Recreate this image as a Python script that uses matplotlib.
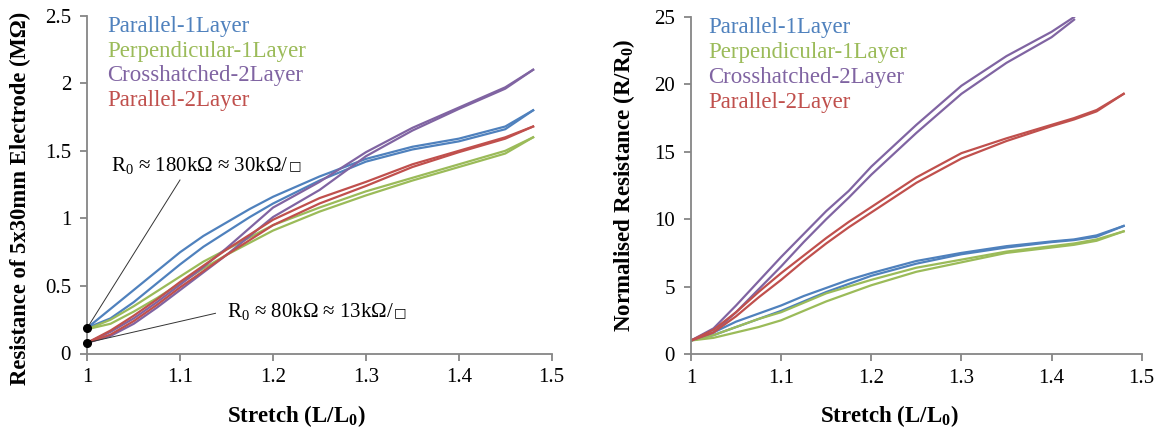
import matplotlib
matplotlib.use('Agg')
import matplotlib.pyplot as plt
import numpy as np

plt.rcParams['font.family'] = ['Liberation Serif', 'DejaVu Serif']
plt.rcParams['mathtext.fontset'] = 'custom'
plt.rcParams['mathtext.rm'] = 'Liberation Serif'
plt.rcParams['mathtext.bf'] = 'Liberation Serif:bold'
plt.rcParams['mathtext.it'] = 'Liberation Serif:italic'

names = ['Parallel-1Layer', 'Perpendicular-1Layer', 'Crosshatched-2Layer', 'Parallel-2Layer']
colors = ['#4F81BD', '#9BBB59', '#8064A2', '#C0504D']

# stretch values where the left-panel branches were read
res_x = [1.0, 1.025, 1.05, 1.075, 1.1, 1.125, 1.15, 1.175, 1.2, 1.25, 1.3, 1.35, 1.4, 1.45, 1.48]

# absolute resistance (MOhm), upper / lower branch of each loop
res_upper = {
    'Parallel-1Layer':      [0.19, 0.33, 0.47, 0.61, 0.75, 0.87, 0.97, 1.07, 1.16, 1.31, 1.44, 1.53, 1.59, 1.68, 1.80],
    'Perpendicular-1Layer': [0.18, 0.25, 0.35, 0.46, 0.57, 0.68, 0.77, 0.86, 0.95, 1.08, 1.20, 1.30, 1.40, 1.50, 1.60],
    'Crosshatched-2Layer':  [0.08, 0.16, 0.26, 0.38, 0.51, 0.64, 0.78, 0.93, 1.08, 1.27, 1.49, 1.67, 1.82, 1.97, 2.10],
    'Parallel-2Layer':      [0.08, 0.17, 0.28, 0.40, 0.53, 0.65, 0.77, 0.88, 0.99, 1.15, 1.27, 1.40, 1.50, 1.60, 1.68],
}
res_lower = {
    'Parallel-1Layer':      [0.19, 0.26, 0.38, 0.52, 0.66, 0.79, 0.90, 1.01, 1.11, 1.28, 1.42, 1.51, 1.57, 1.66, 1.80],
    'Perpendicular-1Layer': [0.18, 0.22, 0.31, 0.41, 0.52, 0.63, 0.73, 0.82, 0.91, 1.05, 1.17, 1.28, 1.38, 1.48, 1.60],
    'Crosshatched-2Layer':  [0.08, 0.13, 0.22, 0.34, 0.47, 0.60, 0.73, 0.87, 1.01, 1.21, 1.46, 1.65, 1.81, 1.96, 2.10],
    'Parallel-2Layer':      [0.08, 0.14, 0.24, 0.36, 0.49, 0.61, 0.73, 0.84, 0.95, 1.11, 1.24, 1.38, 1.49, 1.59, 1.68],
}

# normalised resistance R/R0, upper / lower branch
norm_x = [1.0, 1.025, 1.05, 1.075, 1.1, 1.125, 1.15, 1.175, 1.2, 1.25, 1.3, 1.35, 1.4, 1.425, 1.45, 1.48]
norm_upper = {
    'Parallel-1Layer':      [1.0, 1.6, 2.4, 3.0, 3.6, 4.3, 4.9, 5.5, 6.0, 6.9, 7.5, 8.0, 8.35, 8.5, 8.8, 9.5],
    'Perpendicular-1Layer': [1.0, 1.4, 2.0, 2.6, 3.1, 3.8, 4.5, 5.0, 5.5, 6.4, 7.0, 7.6, 8.0, 8.2, 8.5, 9.1],
    'Crosshatched-2Layer':  [1.0, 1.9, 3.6, 5.4, 7.2, 8.9, 10.6, 12.1, 13.9, 17.0, 19.9, 22.1, 23.9, 25.0, np.nan, np.nan],
    'Parallel-2Layer':      [1.0, 1.8, 3.1, 4.6, 6.0, 7.3, 8.6, 9.8, 10.9, 13.1, 14.9, 16.0, 17.0, 17.5, 18.1, 19.3],
}
norm_lower = {
    'Parallel-1Layer':      [1.0, 1.4, 2.0, 2.6, 3.2, 3.9, 4.6, 5.2, 5.8, 6.7, 7.4, 7.9, 8.3, 8.45, 8.7, 9.5],
    'Perpendicular-1Layer': [1.0, 1.2, 1.6, 2.0, 2.5, 3.2, 3.9, 4.5, 5.1, 6.1, 6.8, 7.5, 7.9, 8.1, 8.4, 9.1],
    'Crosshatched-2Layer':  [1.0, 1.6, 3.1, 4.8, 6.5, 8.3, 10.0, 11.6, 13.3, 16.4, 19.3, 21.6, 23.5, 24.8, np.nan, np.nan],
    'Parallel-2Layer':      [1.0, 1.6, 2.8, 4.2, 5.5, 6.9, 8.2, 9.4, 10.5, 12.7, 14.5, 15.8, 16.9, 17.4, 18.0, 19.3],
}

x_ticks = [1, 1.1, 1.2, 1.3, 1.4, 1.5]
x_ticklabels = ['1', '1.1', '1.2', '1.3', '1.4', '1.5']
left_yticks = [0, 0.5, 1, 1.5, 2, 2.5]
left_yticklabels = ['0', '0.5', '1', '1.5', '2', '2.5']
right_yticks = [0, 5, 10, 15, 20, 25]

W, H = 1159, 433
fig = plt.figure(figsize=(W / 100, H / 100), dpi=100)
ax1 = fig.add_axes([87.3 / W, 1 - 353.5 / H, 464.4 / W, 337.8 / H])
ax2 = fig.add_axes([691 / W, 1 - 354 / H, 450.7 / W, 337 / H])

grey = '#868686'

def style(ax):
    for s in ['top', 'right']:
        ax.spines[s].set_visible(False)
    for s in ['left', 'bottom']:
        ax.spines[s].set_color(grey)
        ax.spines[s].set_linewidth(1.3)
    ax.tick_params(direction='out', length=4.7, width=1.3, color=grey, labelsize=15)
    ax.tick_params(axis='x', pad=6)
    ax.tick_params(axis='y', pad=7)
    ax.set_xlim(1, 1.5)
    ax.set_xticks(x_ticks)
    ax.set_xticklabels(x_ticklabels)

# left panel
for name, c in zip(names, colors):
    ax1.plot(res_x, res_upper[name], color=c, lw=1.6)
    ax1.plot(res_x, res_lower[name], color=c, lw=1.6)
style(ax1)
ax1.set_ylim(0, 2.5)
ax1.set_yticks(left_yticks)
ax1.set_yticklabels(left_yticklabels)

ax1.plot([1, 1], [0.19, 0.08], 'o', color='black', ms=5.5, clip_on=False, zorder=5)
ax1.plot([1, 1.0998], [0.19, 1.284], color='#333333', lw=0.7)
ax1.plot([1, 1.138], [0.08, 0.2975], color='#333333', lw=0.7)
notes = [(1.0252, 1.395, r'R$_0$ ≈ 180kΩ ≈ 30kΩ/'), (1.1504, 0.309, r'R$_0$ ≈ 80kΩ ≈ 13kΩ/')]
for nx, ny, s in notes:
    t = ax1.text(nx, ny, s, fontsize=15, va='center', ha='left')
    # small "per square" sign after the slash
    ax1.annotate('□', xy=(1.0, 0.16), xycoords=t, fontsize=9.5, ha='left', va='bottom',
                 family=['DejaVu Sans'])

# right panel
for name, c in zip(names, colors):
    ax2.plot(norm_x, norm_upper[name], color=c, lw=1.6)
    ax2.plot(norm_x, norm_lower[name], color=c, lw=1.6)
style(ax2)
ax2.set_ylim(0, 25)
ax2.set_yticks(right_yticks)

# axis titles, placed where the reference has them
fig.text(296 / W, 1 - 416 / H, r'Stretch (L/L$_\mathbf{0}$)', fontsize=16.5, fontweight='bold',
         ha='center', va='center')
fig.text(889 / W, 1 - 416 / H, r'Stretch (L/L$_\mathbf{0}$)', fontsize=16.5, fontweight='bold',
         ha='center', va='center')
fig.text(20.3 / W, 1 - 198.5 / H, 'Resistance of 5x30mm Electrode (MΩ)', fontsize=16.3,
         fontweight='bold', rotation=90, ha='center', va='center')
fig.text(624 / W, 1 - 185.7 / H, r'Normalised Resistance (R/R$_\mathbf{0}$)', fontsize=16.6,
         fontweight='bold', rotation=90, ha='center', va='center')

# coloured series names in the top-left corner of each panel
for ax, x0 in ((ax1, 0.042), (ax2, 0.038)):
    for i, (name, c) in enumerate(zip(names, colors)):
        ax.text(x0, 0.9695 - i * 0.074, name, color=c, fontsize=16.5,
                transform=ax.transAxes, va='center', ha='left')

fig.savefig('out.png', dpi=100)
